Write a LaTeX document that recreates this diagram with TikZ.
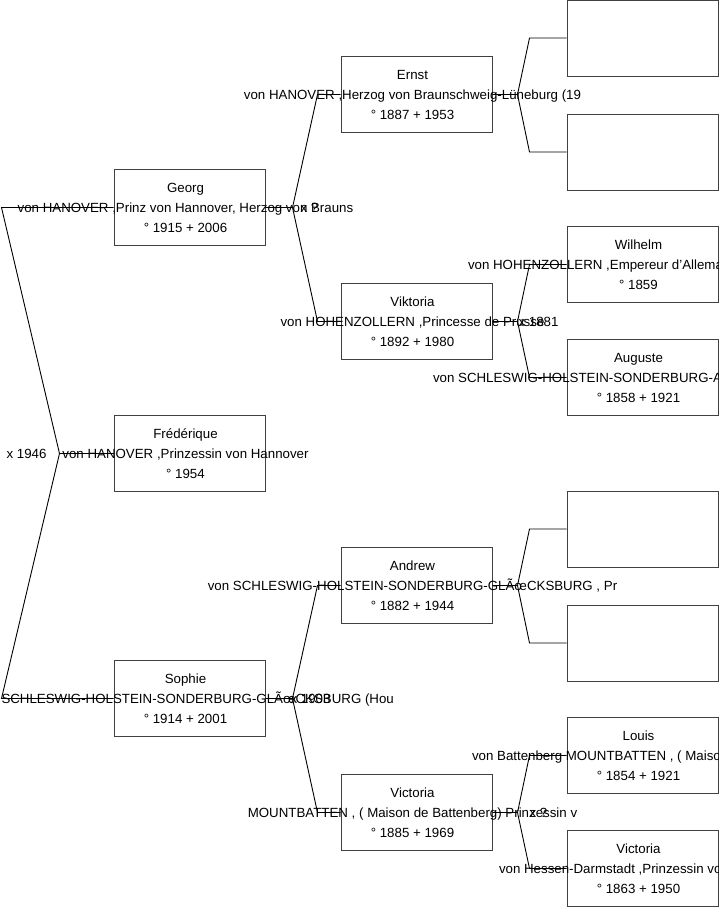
\documentclass[tikz,border=0pt]{standalone}
\usepackage{fontspec}
\setmainfont{Liberation Sans}
\usetikzlibrary{positioning}

% line set a little left of the box centre, may overflow the box
\newcommand{\nameline}[1]{\makebox[0pt]{#1\hspace*{8pt}}}
% surname line that starts at a given offset from the box centre
\newcommand{\cutline}[2]{\makebox[0pt][l]{\hspace*{#1}#2}}
% the three lines of a person
\newcommand{\who}[3]{\nameline{#1}\\#2\\\nameline{#3}}

\begin{document}
\begin{tikzpicture}[
        x=1pt, y=-1pt,
        person/.style={draw=black!75, line width=1pt, minimum width=151pt, minimum height=76pt,
                       inner sep=0pt, align=center, font=\fontsize{13.3}{20}\selectfont},
        link/.style={line width=0.9pt},
        marr/.style={inner sep=0pt, font=\fontsize{13.3}{20}\selectfont}
    ]
        \clip (0,0) rectangle (719,908);

        % first column
        \node[person] (georg)  at (189.5,207.5) {\who{Georg}{\nameline{von HANOVER ,Prinz von Hannover, Herzog von Brauns}}{° 1915 + 2006}};
        \node[person] (fred)   at (189.5,453.5) {\who{Frédérique}{\nameline{von HANOVER ,Prinzessin von Hannover}}{° 1954}};
        \node[person] (sophie) at (189.5,698.5) {\who{Sophie}{\cutline{-188pt}{SCHLESWIG-HOLSTEIN-SONDERBURG-GLÃœCKSBURG (Hou}}{° 1914 + 2001}};

        % second column
        \node[person] (ernst)    at (416.5,94.5)  {\who{Ernst}{\nameline{von HANOVER ,Herzog von Braunschweig-Lüneburg (19}}{° 1887 + 1953}};
        \node[person] (viktoria) at (416.5,321.5) {\who{Viktoria}{\nameline{von HOHENZOLLERN ,Princesse de Prusse}}{° 1892 + 1980}};
        \node[person] (andrew)   at (416.5,585.5) {\who{Andrew}{\nameline{von SCHLESWIG-HOLSTEIN-SONDERBURG-GLÃœCKSBURG , Pr}}{° 1882 + 1944}};
        \node[person] (victoria) at (416.5,812.5) {\who{Victoria}{\nameline{MOUNTBATTEN , ( Maison de Battenberg) Prinzessin v}}{° 1885 + 1969}};

        % third column
        \node[person] (ernstpa)  at (642.5,38)  {};
        \node[person] (ernstma)  at (642.5,152) {};
        \node[person] (wilhelm)  at (642.5,264.5) {\who{Wilhelm}{\cutline{-174.5pt}{von HOHENZOLLERN ,Empereur d'Allema}}{° 1859}};
        \node[person] (auguste)  at (642.5,377.5) {\who{Auguste}{\cutline{-209.5pt}{von SCHLESWIG-HOLSTEIN-SONDERBURG-A}}{° 1858 + 1921}};
        \node[person] (andrewpa) at (642.5,529) {};
        \node[person] (andrewma) at (642.5,643) {};
        \node[person] (louis)    at (642.5,755.5) {\who{Louis}{\cutline{-170.5pt}{von Battenberg MOUNTBATTEN , ( Maiso}}{° 1854 + 1921}};
        \node[person] (vichesse) at (642.5,868.5) {\who{Victoria}{\cutline{-143.5pt}{von Hessen-Darmstadt ,Prinzessin vo}}{° 1863 + 1950}};

        % parents of Frédérique
        \draw[link] (georg.west)  -- ++(-112,0) -- ([xshift=-54pt]fred.west) -- (fred.west);
        \draw[link] (sophie.west) -- ++(-112,0) -- ([xshift=-54pt]fred.west) -- (fred.west);

        % parents of the second generation
        \draw[link] (georg.east)  -- ++(27,0) -- ([xshift=-23pt]ernst.west)    -- (ernst.west);
        \draw[link] (georg.east)  -- ++(27,0) -- ([xshift=-23pt]viktoria.west) -- (viktoria.west);
        \draw[link] (sophie.east) -- ++(27,0) -- ([xshift=-23pt]andrew.west)   -- (andrew.west);
        \draw[link] (sophie.east) -- ++(27,0) -- ([xshift=-23pt]victoria.west) -- (victoria.west);

        % parents of the third generation
        \draw[link] (ernst.east)    -- ++(25,0) -- ([xshift=-37pt]ernstpa.west)  -- (ernstpa.west);
        \draw[link] (ernst.east)    -- ++(25,0) -- ([xshift=-37pt]ernstma.west)  -- (ernstma.west);
        \draw[link] (viktoria.east) -- ++(25,0) -- ([xshift=-37pt]wilhelm.west)  -- (wilhelm.west);
        \draw[link] (viktoria.east) -- ++(25,0) -- ([xshift=-37pt]auguste.west)  -- (auguste.west);
        \draw[link] (andrew.east)   -- ++(25,0) -- ([xshift=-37pt]andrewpa.west) -- (andrewpa.west);
        \draw[link] (andrew.east)   -- ++(25,0) -- ([xshift=-37pt]andrewma.west) -- (andrewma.west);
        \draw[link] (victoria.east) -- ++(25,0) -- ([xshift=-37pt]louis.west)    -- (louis.west);
        \draw[link] (victoria.east) -- ++(25,0) -- ([xshift=-37pt]vichesse.west) -- (vichesse.west);

        % marriages
        \node[marr] (mfred)     at ([xshift=-87pt]fred.west)    {x 1946};
        \node[marr] (mgeorg)    at ([xshift=44pt]georg.east)    {x ?};
        \node[marr] (msophie)   at ([xshift=45pt]sophie.east)   {x 1903};
        \node[marr] (mviktoria) at ([xshift=46pt]viktoria.east) {x 1881};
        \node[marr] (mvictoria) at ([xshift=46pt]victoria.east) {x ?};
    \end{tikzpicture}
\end{document}
